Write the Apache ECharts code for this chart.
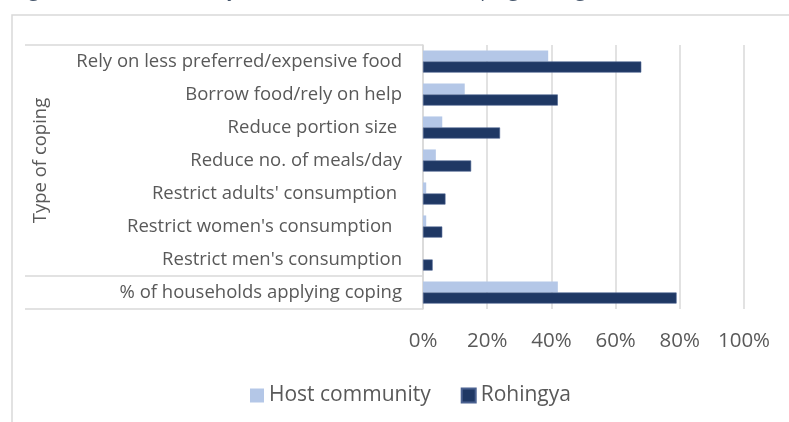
<!DOCTYPE html>
<html>
<head>
<meta charset="utf-8">
<script src="https://cdn.jsdelivr.net/npm/echarts@6/dist/echarts.min.js"></script>
<style>
  html, body { margin: 0; padding: 0; background: #fff; }
  #chart { width: 789px; height: 422px; }
</style>
</head>
<body>
<div id="chart"></div>
<script>
// coping strategies, top to bottom as in the figure
const categories = [
    'Rely on less preferred/expensive food',
    'Borrow food/rely on help',
    'Reduce portion size ',
    'Reduce no. of meals/day',
    "Restrict adults' consumption ",
    "Restrict women's consumption  ",
    "Restrict men's consumption",
    '% of households applying coping'
];
const hostValues = [39, 13, 6, 4, 1, 1, 0, 42];      // Host community, %
const rohingyaValues = [68, 42, 24, 15, 7, 6, 3, 79]; // Rohingya, %
const xTicks = [0, 20, 40, 60, 80, 100];
const groupLabel = 'Type of coping';

const font = 'Open Sans';
const grey = '#595959';
const lineGrey = '#d9d9d9';

const myChart = echarts.init(document.getElementById('chart'));

const option = {
    animation: false,
    textStyle: { fontFamily: font },
    graphic: [
        { // outer frame of the figure, cut off at the right and bottom
            type: 'rect',
            shape: { x: 12, y: 15, width: 820, height: 440 },
            style: { fill: 'none', stroke: lineGrey, lineWidth: 1.5 }
        },
        { // caption above, mostly cropped away
            type: 'text',
            x: 14, y: -18,
            style: { text: 'Figure 10: Households by reliance on food-related coping strategies', font: '19px "Open Sans"', fill: '#44546A', verticalAlign: 'top' }
        }
    ],
    legend: {
        left: 250,
        top: 385,
        padding: 0,
        itemWidth: 14,
        itemHeight: 14,
        itemGap: 30,
        icon: 'rect',
        textStyle: { fontSize: 21, color: grey, fontFamily: font }
    },
    grid: { left: 423, right: 45, top: 45, height: 264 },
    xAxis: {
        type: 'value',
        min: xTicks[0],
        max: xTicks[xTicks.length - 1],
        interval: xTicks[1] - xTicks[0],
        axisLine: { show: false },
        axisTick: { show: false },
        splitLine: { lineStyle: { color: lineGrey, width: 1.5 } },
        axisLabel: { formatter: '{value}%', fontSize: 20.5, color: grey, margin: 22 }
    },
    yAxis: [
        {
            type: 'category',
            data: categories,
            inverse: true,
            axisLine: { show: true, lineStyle: { color: lineGrey, width: 1.5 } },
            axisTick: { show: false },
            axisLabel: { fontSize: 18.5, color: grey, margin: 21 }
        },
        { // group level of the category axis: brackets and "Type of coping"
            type: 'value',
            position: 'left',
            min: 0,
            max: categories.length,
            axisLine: { show: false },
            splitLine: { show: false },
            axisTick: {
                show: true,
                customValues: [0, 1, categories.length],
                length: 398,
                lineStyle: { color: lineGrey, width: 1.5 }
            },
            axisLabel: {
                customValues: [(1 + categories.length) / 2],
                formatter: () => groupLabel,
                rotate: 90,
                margin: 373,
                fontSize: 18.5,
                color: grey
            }
        }
    ],
    series: [
        {
            name: 'Host community',
            type: 'bar',
            data: hostValues,
            barGap: '0%',
            barCategoryGap: '33%',
            itemStyle: { color: '#B4C7E7' }
        },
        {
            name: 'Rohingya',
            type: 'bar',
            data: rohingyaValues,
            barGap: '0%',
            barCategoryGap: '33%',
            itemStyle: { color: '#1F3864', borderColor: '#4a6190', borderWidth: 0.6 }
        }
    ]
};

myChart.setOption(option);
</script>
</body>
</html>
